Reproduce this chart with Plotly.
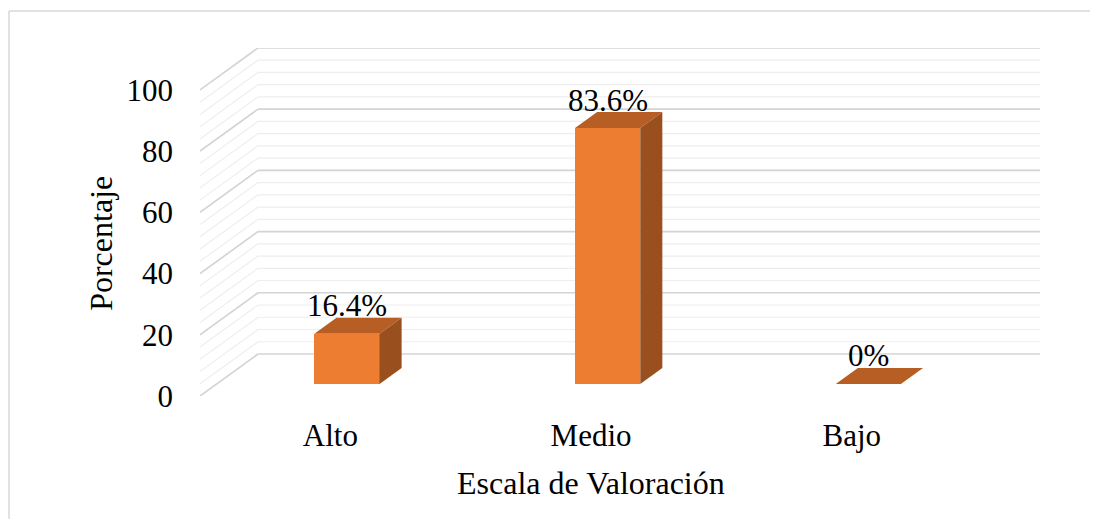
import plotly.graph_objects as go

# ---- data ----
categories = ["Alto", "Medio", "Bajo"]
values = [16.4, 83.6, 0]
y_ticks = [0, 20, 40, 60, 80, 100]
minor_step = 4
x_title = "Escala de Valoración"
y_title = "Porcentaje"

# ---- 3D look parameters (in axis units) ----
X_MAX = 2.722          # right end of x axis (includes depth)
Y_MAX = 113.7          # top of y axis (includes depth)
DX, DY = 0.2225, 13.73 # depth offset of the back wall
D1, D2 = 0.286, 0.667  # bar front / back depth fractions
BW = 0.25              # bar width
FRONT = "#ED7D31"
TOP = "#B65E23"
SIDE = "#9A501E"
FONT = "Liberation Serif, Times New Roman, serif"

fig = go.Figure()

# ---- wall gridlines (shapes below traces) ----
def add_grid(vals, color, width):
    for v in vals:
        fig.add_shape(type="line", xref="x", yref="y", layer="below",
                      x0=-0.5, y0=v, x1=-0.5 + DX, y1=v + DY,
                      line=dict(color=color, width=width))
        fig.add_shape(type="line", xref="x", yref="y", layer="below",
                      x0=-0.5 + DX, y0=v + DY, x1=X_MAX, y1=v + DY,
                      line=dict(color=color, width=width))

minor_vals = [v for v in range(0, 101, minor_step) if v not in y_ticks]
add_grid(minor_vals, "#EEEEEE", 1.2)
add_grid(y_ticks, "#D4D4D4", 1.7)

# ---- bars ----
xpos = list(range(len(categories)))
fx = [c + D1 * DX for c in xpos]
fig.add_trace(go.Bar(x=fx, y=values, base=D1 * DY, width=BW,
                     marker=dict(color=FRONT, line=dict(width=0)),
                     hoverinfo="skip", showlegend=False))

dd = (D2 - D1)
for c, v in zip(xpos, values):
    x0 = c - BW / 2 + D1 * DX
    x1 = c + BW / 2 + D1 * DX
    yb = D1 * DY
    yt = v + D1 * DY
    ox, oy = dd * DX, dd * DY
    # top face
    fig.add_trace(go.Scatter(x=[x0, x1, x1 + ox, x0 + ox, x0],
                             y=[yt, yt, yt + oy, yt + oy, yt],
                             mode="lines", fill="toself", fillcolor=TOP,
                             line=dict(width=0, color=TOP),
                             hoverinfo="skip", showlegend=False))
    # side face
    if v > 0:
        fig.add_trace(go.Scatter(x=[x1, x1 + ox, x1 + ox, x1, x1],
                                 y=[yb, yb + oy, yt + oy, yt, yb],
                                 mode="lines", fill="toself", fillcolor=SIDE,
                                 line=dict(width=0, color=SIDE),
                                 hoverinfo="skip", showlegend=False))
    # data label
    fig.add_annotation(x=c + D1 * DX, y=yt, text=f"{v:g}%", showarrow=False,
                       yshift=28, font=dict(family=FONT, size=31, color="black"))

# ---- layout geometry (page body has an 8px margin) ----
W, H = 1082, 511
L, T = 192, 40
PW, PH = 840, 348

# ---- titles ----
fig.add_annotation(xref="x", yref="paper", x=1, y=-0.251, text=x_title,
                   showarrow=False, xanchor="center", yanchor="middle",
                   font=dict(family=FONT, size=32, color="black"))
fig.add_annotation(xref="paper", yref="y", x=-0.118, y=50, text=y_title,
                   textangle=-90, showarrow=False, xanchor="center",
                   yanchor="middle",
                   font=dict(family=FONT, size=32, color="black"))

# ---- border (left/top) ----
def px(x): return (x - L) / PW
def py(y): return (T + PH - y) / PH
fig.add_shape(type="line", xref="paper", yref="paper", x0=px(1), x1=px(1),
              y0=py(3), y1=py(H), line=dict(color="#D9D9D9", width=1.5))
fig.add_shape(type="line", xref="paper", yref="paper", x0=px(1), x1=px(W),
              y0=py(3), y1=py(3), line=dict(color="#D9D9D9", width=1.5))

fig.update_layout(
    width=W, height=H,
    margin=dict(l=L, r=W - L - PW, t=T, b=H - T - PH),
    paper_bgcolor="white", plot_bgcolor="white",
    bargap=0,
    font=dict(family=FONT, size=31, color="black"),
    xaxis=dict(range=[-0.5, X_MAX], tickvals=xpos, ticktext=categories,
               showgrid=False, zeroline=False, showline=False, ticks="",
               ticklabelstandoff=18, fixedrange=True),
    yaxis=dict(range=[0, Y_MAX], tickvals=y_ticks, showgrid=False,
               zeroline=False, showline=False, ticks="",
               ticklabelstandoff=26, fixedrange=True),
)

fig.write_html("out.html")
